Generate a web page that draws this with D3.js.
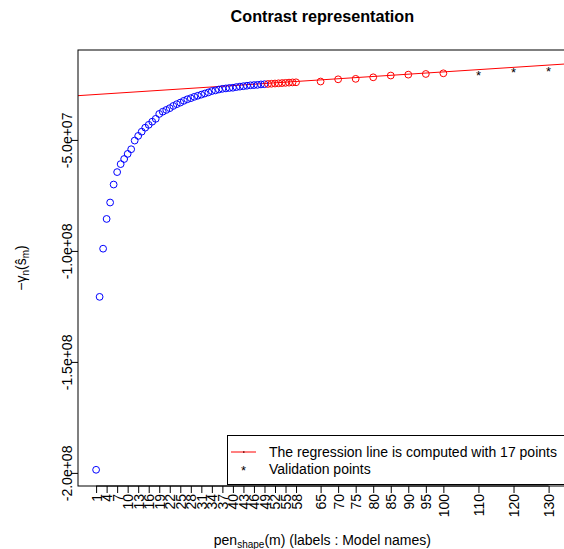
<!DOCTYPE html>
<meta charset="utf-8">
<title>Contrast representation</title>
<style>
    body { margin: 0; background: white; }
    text { font-family: "Liberation Sans", Arial, sans-serif; }
</style>
<body>
<script src="https://d3js.org/d3.v7.min.js"></script>
<div id="chart"></div>
<script>
    var width = 564;
    var height = 549;

    // pen values of the models (x) and their contrast -gamma_n(s_m) (y)
    var pens = [1, 2, 3, 4, 5, 6, 7, 8, 9, 10, 11, 12, 13, 14, 15, 16, 17, 18, 19, 20,
                21, 22, 23, 24, 25, 26, 27, 28, 29, 30, 31, 32, 33, 34, 35, 36, 37, 38, 39, 40,
                41, 42, 43, 44, 45, 46, 47, 48, 49, 50, 51, 52, 53, 54, 55, 56, 57, 58,
                65, 70, 75, 80, 85, 90, 95, 100];
    var contrast = [-19.86e7, -12.07e7, -9.90e7, -8.56e7, -7.82e7, -7.01e7, -6.45e7, -6.09e7, -5.86e7, -5.63e7,
                    -5.42e7, -5.03e7, -4.82e7, -4.63e7, -4.45e7, -4.32e7, -4.18e7, -4.05e7, -3.83e7, -3.73e7,
                    -3.65e7, -3.57e7, -3.47e7, -3.39e7, -3.32e7, -3.24e7, -3.17e7, -3.12e7, -3.06e7, -3.01e7,
                    -2.96e7, -2.91e7, -2.86e7, -2.80e7, -2.77e7, -2.73e7, -2.70e7, -2.68e7, -2.66e7, -2.65e7,
                    -2.62e7, -2.60e7, -2.58e7, -2.56e7, -2.54e7, -2.53e7, -2.52e7, -2.50e7, -2.49e7,
                    -2.48e7, -2.47e7, -2.46e7, -2.45e7, -2.44e7, -2.43e7, -2.42e7, -2.41e7, -2.405e7,
                    -2.37e7, -2.27e7, -2.25e7, -2.18e7, -2.10e7, -2.06e7, -2.03e7, -2.00e7];
    var nFit = 17; // last 17 models used for the regression

    // validation points
    var valPens = [110, 120, 130];
    var valContrast = [-1.98e7, -1.85e7, -1.80e7];

    // regression line
    var regIntercept = -2.964e7;
    var regSlope = 1.027e5;

    // axis ticks
    var xTicks = [1, 4, 7, 10, 13, 16, 19, 22, 25, 28, 31, 34, 37, 40, 43, 46, 49, 52, 55, 58,
                  65, 70, 75, 80, 85, 90, 95, 100, 110, 120, 130];
    var xTickLabels = ["1", "4", "7", "10", "13", "16", "19", "22", "25", "28", "31", "34", "37", "40",
                       "43", "46", "49", "52", "55", "58", "65", "70", "75", "80", "85", "90", "95",
                       "100", "110", "120", "130"];
    var yTicks = [-2e8, -1.5e8, -1e8, -5e7];
    var yTickLabels = ["-2.0e+08", "-1.5e+08", "-1.0e+08", "-5.0e+07"];

    var pLeft = 78, pRight = 566.7, pTop = 50, pBottom = 486;

    var x = d3.scaleLinear().domain([-4.16, 135.16]).range([pLeft, pRight]);
    var y = d3.scaleLinear().domain([-20.59e7, -0.95e7]).range([pBottom, pTop]);

    var svg = d3.select("#chart").append("svg")
        .attr("width", width)
        .attr("height", height)
        .style("display", "block");

    svg.append("rect").attr("width", width).attr("height", height).attr("fill", "white");

    svg.append("clipPath").attr("id", "plotclip")
        .append("rect")
        .attr("x", pLeft).attr("y", pTop)
        .attr("width", pRight - pLeft).attr("height", pBottom - pTop);

    // title
    svg.append("text")
        .attr("x", (pLeft + pRight) / 2)
        .attr("y", 22)
        .attr("text-anchor", "middle")
        .style("font-size", "16.2px")
        .style("font-weight", "bold")
        .text("Contrast representation");

    // regression line
    var xd = x.domain();
    svg.append("line")
        .attr("clip-path", "url(#plotclip)")
        .attr("x1", x(xd[0])).attr("y1", y(regIntercept + regSlope * xd[0]))
        .attr("x2", x(xd[1])).attr("y2", y(regIntercept + regSlope * xd[1]))
        .style("stroke", "red")
        .attr("stroke-width", 1);

    // model points
    var pts = pens.map(function(p, i) {
        return {pen: p, c: contrast[i], fit: i >= pens.length - nFit};
    });

    svg.append("g")
        .selectAll("circle")
        .data(pts)
        .enter().append("circle")
        .attr("cx", function(d) { return x(d.pen); })
        .attr("cy", function(d) { return y(d.c); })
        .attr("r", 3.4)
        .style("fill", "none")
        .style("stroke", function(d) { return d.fit ? "red" : "blue"; })
        .attr("stroke-width", 1);

    // validation points
    svg.append("g")
        .selectAll("text")
        .data(valPens)
        .enter().append("text")
        .attr("x", function(d) { return x(d); })
        .attr("y", function(d, i) { return y(valContrast[i]) + 7; })
        .attr("text-anchor", "middle")
        .style("font-size", "13px")
        .text("*");

    // axes
    var yAxis = svg.append("g")
        .attr("transform", "translate(" + pLeft + ",0)")
        .call(d3.axisLeft(y).tickValues(yTicks).tickSize(7)
            .tickFormat(function(d, i) { return yTickLabels[i]; }));
    yAxis.select(".domain").remove();
    yAxis.selectAll("line").attr("stroke", "black");
    yAxis.selectAll("text")
        .attr("transform", "rotate(-90)")
        .attr("x", 0).attr("y", -6).attr("dy", 0)
        .attr("text-anchor", "middle")
        .style("font-size", "14px")
        .attr("fill", "black");

    var xAxis = svg.append("g")
        .attr("transform", "translate(0," + pBottom + ")")
        .call(d3.axisBottom(x).tickValues(xTicks).tickSize(7)
            .tickFormat(function(d, i) { return xTickLabels[i]; }));
    xAxis.select(".domain").remove();
    xAxis.selectAll("line").attr("stroke", "black");
    xAxis.selectAll("text")
        .attr("transform", "rotate(-90)")
        .attr("x", -8).attr("y", 5).attr("dy", 0)
        .attr("text-anchor", "end")
        .style("font-size", "14px")
        .attr("fill", "black");

    svg.append("line")
        .attr("x1", x(xTicks[0])).attr("x2", x(xTicks[xTicks.length - 1]))
        .attr("y1", pBottom).attr("y2", pBottom)
        .style("stroke", "black");

    // frame
    svg.append("rect")
        .attr("x", pLeft).attr("y", pTop)
        .attr("width", pRight - pLeft).attr("height", pBottom - pTop)
        .style("fill", "none")
        .style("stroke", "black");

    // axis titles
    var xl = svg.append("text")
        .attr("x", (pLeft + pRight) / 2)
        .attr("y", 545)
        .attr("text-anchor", "middle")
        .style("font-size", "14px");
    xl.append("tspan").text("pen");
    xl.append("tspan").attr("dy", 3).style("font-size", "10px").text("shape");
    xl.append("tspan").attr("dy", -3).text("(m) (labels : Model names)");

    var yl = svg.append("text")
        .attr("transform", "translate(26," + (pTop + pBottom) / 2 + ") rotate(-90)")
        .attr("text-anchor", "middle")
        .style("font-size", "14px");
    yl.append("tspan").text("\u2212\u03b3");
    yl.append("tspan").attr("dy", 3).style("font-size", "10px").text("n");
    yl.append("tspan").attr("dy", -3).text("(\u015d");
    yl.append("tspan").attr("dy", 3).style("font-size", "10px").text("m");
    yl.append("tspan").attr("dy", -3).text(")");

    // legend (bottomright)
    var leg = svg.append("g");
    leg.append("rect")
        .attr("x", 227.5).attr("y", 435.5)
        .attr("width", pRight - 227.5).attr("height", 49)
        .style("fill", "white")
        .style("stroke", "black");
    leg.append("line")
        .attr("x1", 231).attr("x2", 256)
        .attr("y1", 452).attr("y2", 452)
        .style("stroke", "red");
    leg.append("rect")
        .attr("x", 243).attr("y", 451.3).attr("width", 1.5).attr("height", 1.5)
        .style("fill", "#600");
    leg.append("text")
        .attr("x", 269).attr("y", 457)
        .style("font-size", "14px")
        .text("The regression line is computed with " + nFit + " points");
    leg.append("text")
        .attr("x", 243.5).attr("y", 475)
        .attr("text-anchor", "middle")
        .style("font-size", "13px")
        .text("*");
    leg.append("text")
        .attr("x", 269).attr("y", 474)
        .style("font-size", "14px")
        .text("Validation points");
</script>
</body>
